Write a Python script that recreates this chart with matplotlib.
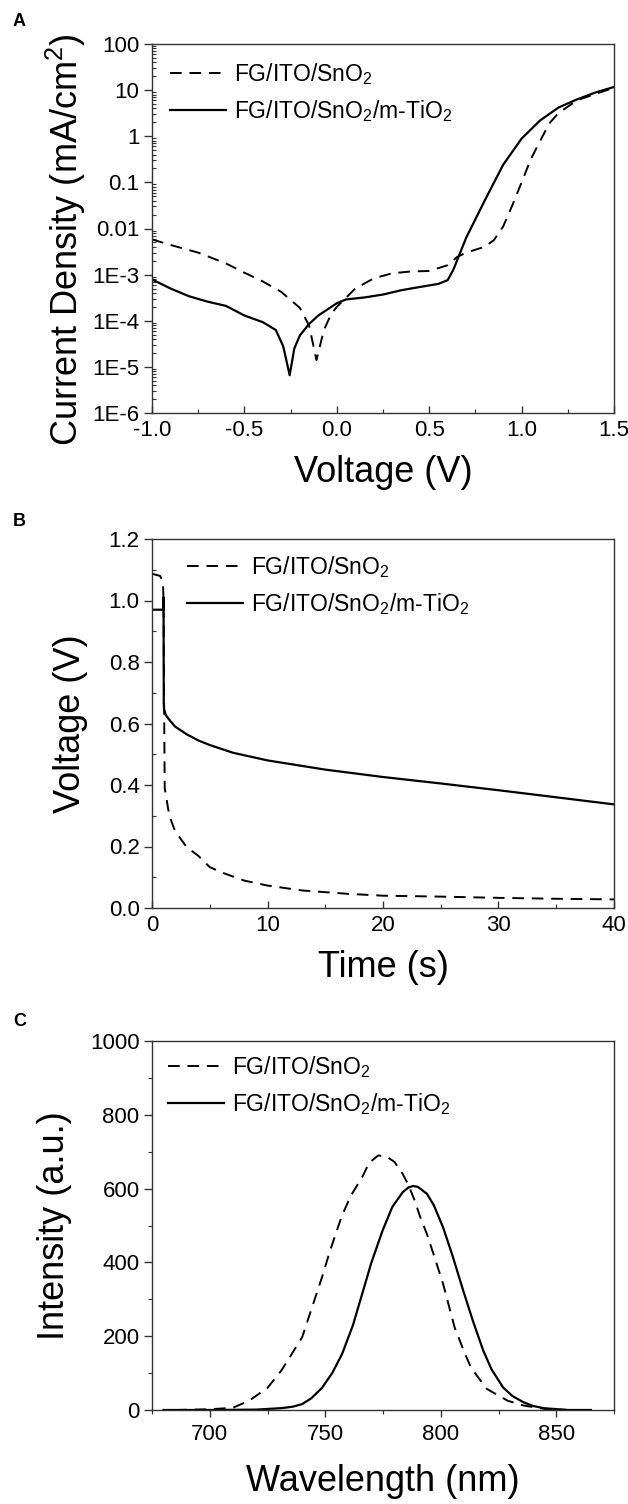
import numpy as np
import matplotlib
matplotlib.use("Agg")
import matplotlib.pyplot as plt
from matplotlib.ticker import FixedLocator, MultipleLocator, FuncFormatter, LogLocator, NullFormatter

plt.rcParams['font.family'] = ['Liberation Sans', 'DejaVu Sans']
plt.rcParams['mathtext.fontset'] = 'custom'
plt.rcParams['mathtext.rm'] = 'Liberation Sans'
plt.rcParams['mathtext.it'] = 'Liberation Sans:italic'
plt.rcParams['mathtext.bf'] = 'Liberation Sans:bold'

label_sno2 = r'FG/ITO/SnO$_\mathregular{2}$'
label_tio2 = r'FG/ITO/SnO$_\mathregular{2}$/m-TiO$_\mathregular{2}$'

# ---------- Panel A: J-V (log) ----------
a_v_sno2 = [-1.0, -0.9, -0.75, -0.6, -0.5, -0.4, -0.3, -0.2, -0.15, -0.11, -0.07, -0.03,
            0.0, 0.1, 0.2, 0.3, 0.4, 0.5, 0.6, 0.65, 0.7, 0.8, 0.85, 0.9, 0.95, 1.0,
            1.05, 1.1, 1.15, 1.2, 1.3, 1.4, 1.5]
a_j_sno2 = [5.8e-3, 4.4e-3, 3.0e-3, 1.75e-3, 1.1e-3, 7.1e-4, 4.2e-4, 1.9e-4, 7.9e-5, 1.4e-5,
            6.3e-5, 1.4e-4, 2.0e-4, 5.0e-4, 8.3e-4, 1.07e-3, 1.17e-3, 1.2e-3, 1.6e-3, 2.4e-3,
            3.0e-3, 4.0e-3, 5.6e-3, 1.1e-2, 3.2e-2, 0.1, 0.32, 0.79, 1.9, 3.2, 6.0, 8.3, 11.2]
a_v_tio2 = [-1.0, -0.9, -0.8, -0.7, -0.6, -0.5, -0.4, -0.33, -0.29, -0.255, -0.23, -0.2,
            -0.15, -0.1, 0.0, 0.05, 0.15, 0.25, 0.35, 0.45, 0.55, 0.6, 0.63, 0.66, 0.7,
            0.8, 0.9, 1.0, 1.1, 1.2, 1.3, 1.4, 1.5]
a_j_tio2 = [7.9e-4, 5.0e-4, 3.4e-4, 2.6e-4, 2.1e-4, 1.3e-4, 9.3e-5, 6.3e-5, 2.8e-5, 6.6e-6,
            2.5e-5, 4.8e-5, 8.5e-5, 1.3e-4, 2.4e-4, 2.9e-4, 3.2e-4, 3.7e-4, 4.6e-4, 5.4e-4,
            6.3e-4, 7.6e-4, 1.26e-3, 2.5e-3, 6.3e-3, 4.0e-2, 0.24, 0.89, 2.2, 4.2, 6.3, 8.9, 11.7]
a_yticks = [1e-6, 1e-5, 1e-4, 1e-3, 1e-2, 1e-1, 1, 10, 100]
a_yticklabels = ['1E-6', '1E-5', '1E-4', '1E-3', '0.01', '0.1', '1', '10', '100']

# ---------- Panel B: voltage decay ----------
b_t_sno2 = [0, 0.7, 0.95, 1.0, 1.05, 1.1, 1.5, 2, 3, 4, 5, 6, 8, 10, 13, 17, 20, 25, 30, 35, 40]
b_v_sno2 = [1.087, 1.08, 1.06, 1.0, 0.65, 0.39, 0.30, 0.25, 0.198, 0.17, 0.133, 0.116, 0.089,
            0.073, 0.057, 0.046, 0.040, 0.037, 0.033, 0.030, 0.028]
b_t_tio2 = [0, 0.98, 1.0, 1.02, 1.05, 1.2, 1.5, 2, 3, 4, 5, 7, 10, 15, 20, 25, 30, 35, 40]
b_v_tio2 = [0.97, 0.97, 1.01, 0.66, 0.645, 0.627, 0.612, 0.59, 0.565, 0.545, 0.53, 0.505, 0.48,
            0.45, 0.426, 0.405, 0.383, 0.36, 0.337]

# ---------- Panel C: PL spectra ----------
c_wl_sno2 = [685, 700, 710, 717, 725, 731, 740, 748.6, 752, 757, 761, 766, 769, 773, 777, 780,
             783.5, 786, 788.7, 791, 794, 797, 801, 806, 810, 813, 816, 820, 829, 836, 845, 855, 865]
c_i_sno2 = [0, 2, 6, 25, 60, 107, 197, 360, 430, 523, 580, 631, 670, 690, 685, 672,
            640, 610, 568, 525, 477, 420, 342, 224, 160, 116, 90, 57, 25, 12, 3, 0, 0]
c_wl_tio2 = [680, 700, 720, 731, 736, 740, 744, 748.6, 753, 757.3, 762, 766, 770, 774.8, 779,
             783.5, 786, 788, 790, 794, 797, 801, 805, 809.7, 814, 818.4, 822, 827, 831, 835.8,
             840, 844.5, 855, 865]
c_i_tio2 = [0, 0, 1, 5, 9, 16, 32, 60, 100, 152, 230, 315, 400, 486, 550,
            590, 603, 607, 605, 586, 555, 495, 420, 324, 240, 161, 110, 61, 38, 21,
            11, 5, 0, 0]

W, H = 628, 1504
fig = plt.figure(figsize=(W / 100, H / 100), dpi=100)

def add_axes(top_px, bottom_px, left_px=152, right_px=614):
    return fig.add_axes([left_px / W, 1 - bottom_px / H,
                         (right_px - left_px) / W, (bottom_px - top_px) / H])

axA = add_axes(44, 413)
axB = add_axes(539, 908)
axC = add_axes(1041, 1410)

dash = (0, (6, 4))
lw_d = 1.4
lw_s = 1.6
TICK_FS = 16
LAB_FS = 26
LEG_FS = 16.5

def style(ax, xin=True):
    for s in ax.spines.values():
        s.set_linewidth(1.0)
        s.set_color('#333333')
    ax.tick_params(axis='both', which='both', labelsize=TICK_FS, top=False, right=False,
                   colors='#333333', labelcolor='black')
    ax.tick_params(axis='y', which='major', direction='out', length=6, width=1, pad=3)
    ax.tick_params(axis='y', which='minor', direction='in', length=3, width=0.8)
    xd = 'in' if xin else 'out'
    ax.tick_params(axis='x', which='major', direction=xd, length=5, width=1, pad=5)
    ax.tick_params(axis='x', which='minor', direction=xd, length=3, width=0.8)

def px_to_axes_x(px):
    return (px - 152) / (614 - 152)

leg_kw = dict(loc='upper left', frameon=False, fontsize=LEG_FS, handlelength=2.45,
              handletextpad=0.35, labelspacing=0.5, borderaxespad=0.0, borderpad=0.0)

# Panel A
axA.plot(a_v_sno2, a_j_sno2, color='black', lw=lw_d, linestyle=dash, label=label_sno2)
axA.plot(a_v_tio2, a_j_tio2, color='black', lw=lw_s, label=label_tio2)
axA.set_yscale('log')
axA.set_xlim(-1.0, 1.5)
axA.set_ylim(1e-6, 100)
axA.xaxis.set_major_locator(MultipleLocator(0.5))
axA.xaxis.set_minor_locator(MultipleLocator(0.25))
axA.xaxis.set_major_formatter(FuncFormatter(lambda v, p: f'{v:.1f}'))
axA.yaxis.set_major_locator(FixedLocator(a_yticks))
axA.set_yticklabels(a_yticklabels)
axA.yaxis.set_minor_locator(LogLocator(base=10, subs=np.arange(2, 10), numticks=20))
axA.yaxis.set_minor_formatter(NullFormatter())
style(axA)
axA.set_xlabel('Voltage (V)', fontsize=LAB_FS, labelpad=10)
axA.set_ylabel(r'Current Density (mA/cm$^\mathregular{2}$)', fontsize=LAB_FS)
axA.yaxis.set_label_coords(px_to_axes_x(88), 0.47)
axA.legend(bbox_to_anchor=(px_to_axes_x(170), 0.955), **leg_kw)

# Panel B
axB.plot(b_t_sno2, b_v_sno2, color='black', lw=lw_d, linestyle=dash, label=label_sno2)
axB.plot(b_t_tio2, b_v_tio2, color='black', lw=lw_s, label=label_tio2)
axB.set_xlim(0, 40)
axB.set_ylim(0, 1.2)
axB.xaxis.set_major_locator(MultipleLocator(10))
axB.xaxis.set_minor_locator(MultipleLocator(5))
axB.yaxis.set_major_locator(MultipleLocator(0.2))
axB.yaxis.set_minor_locator(MultipleLocator(0.1))
axB.yaxis.set_major_formatter(FuncFormatter(lambda v, p: f'{v:.1f}'))
style(axB)
axB.set_xlabel('Time (s)', fontsize=LAB_FS, labelpad=10)
axB.set_ylabel('Voltage (V)', fontsize=LAB_FS)
axB.yaxis.set_label_coords(px_to_axes_x(88), 0.5)
axB.legend(bbox_to_anchor=(px_to_axes_x(187), 0.96), **leg_kw)

# Panel C
axC.plot(c_wl_sno2, c_i_sno2, color='black', lw=lw_d, linestyle=dash, label=label_sno2)
axC.plot(c_wl_tio2, c_i_tio2, color='black', lw=lw_s, label=label_tio2)
axC.set_xlim(675, 875)
axC.set_ylim(0, 1000)
axC.xaxis.set_major_locator(MultipleLocator(50))
axC.xaxis.set_minor_locator(MultipleLocator(25))
axC.yaxis.set_major_locator(MultipleLocator(200))
axC.yaxis.set_minor_locator(MultipleLocator(100))
style(axC, xin=False)
axC.tick_params(axis='y', which='minor', direction='out', length=3)
axC.set_xlabel('Wavelength (nm)', fontsize=LAB_FS, labelpad=14)
axC.set_ylabel('Intensity (a.u.)', fontsize=LAB_FS)
axC.yaxis.set_label_coords(px_to_axes_x(72), 0.5)
axC.legend(bbox_to_anchor=(px_to_axes_x(168), 0.965), **leg_kw)

for letter, ypx in [('A', 21), ('B', 521), ('C', 1021)]:
    fig.text(13 / W, 1 - ypx / H, letter, fontsize=13, fontweight='bold', va='center', ha='left')

fig.savefig('out.png', dpi=100)
